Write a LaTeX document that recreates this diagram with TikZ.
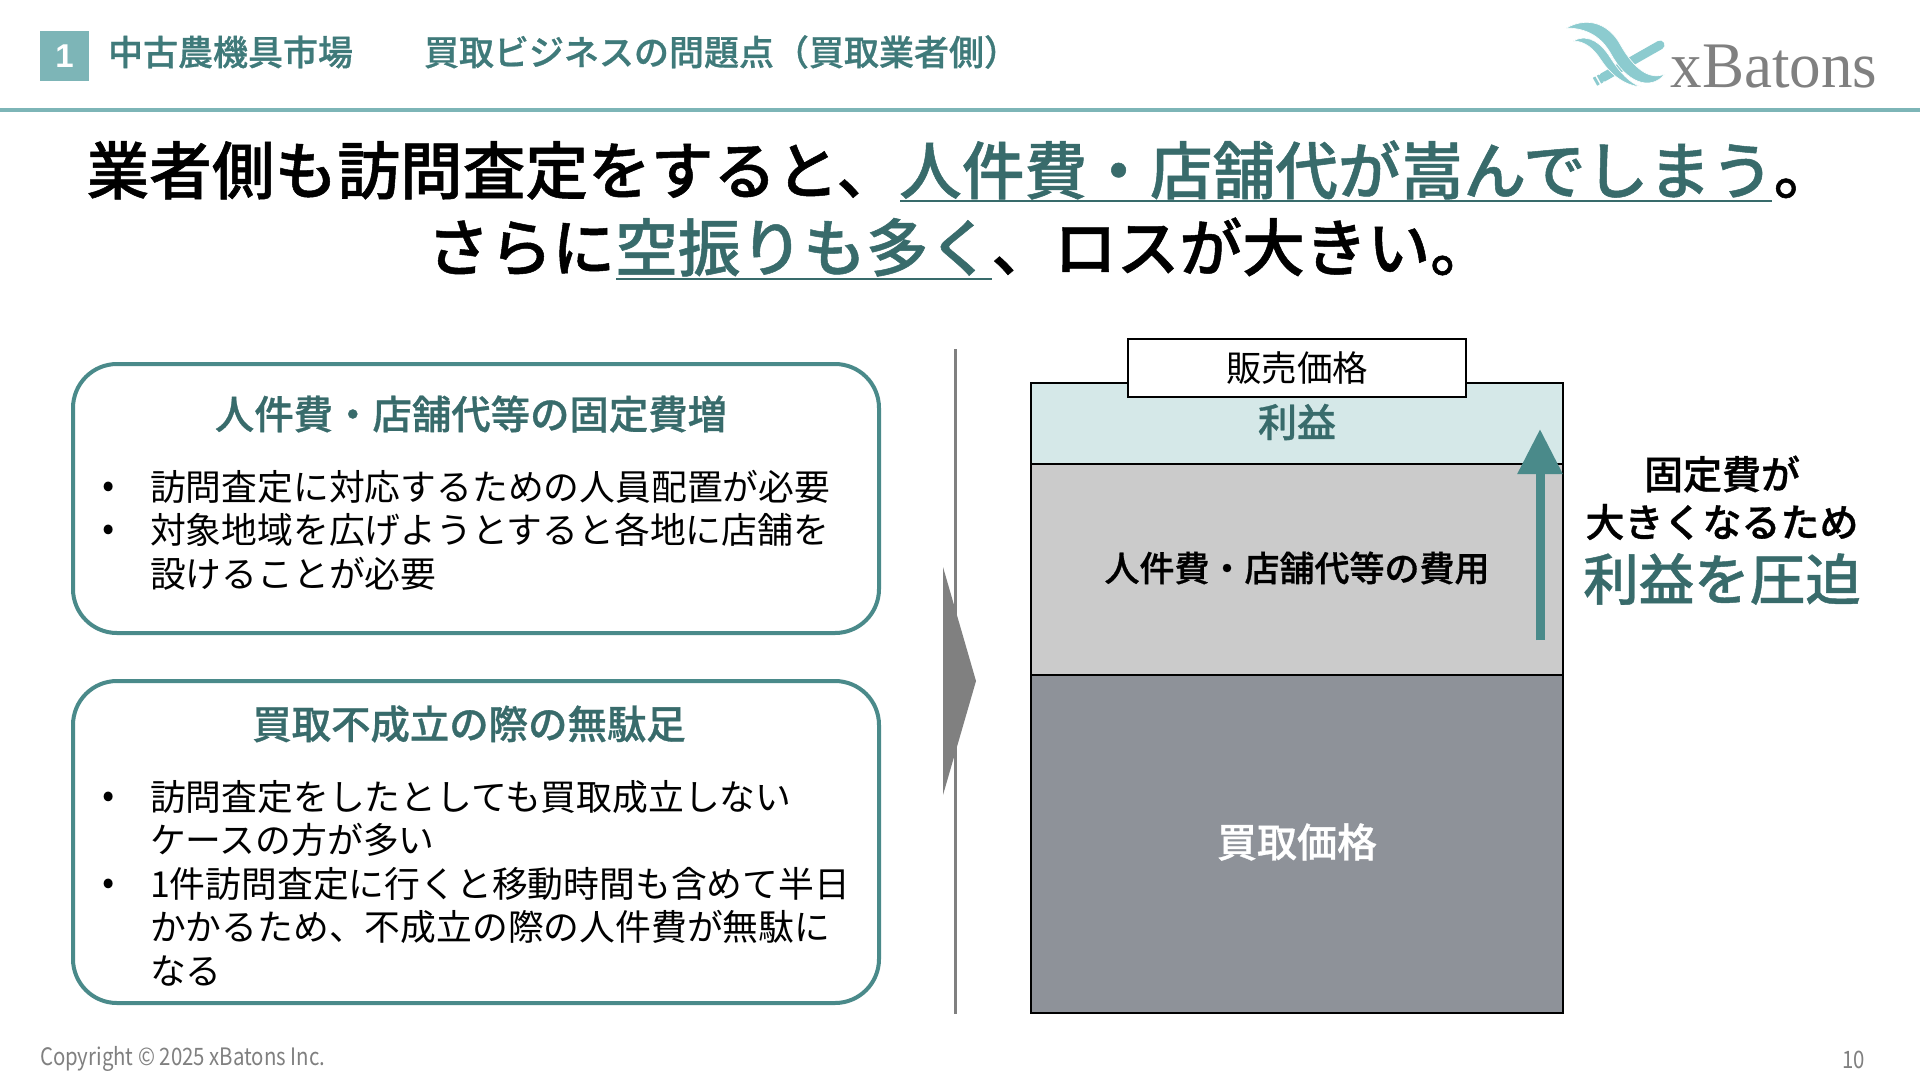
\documentclass[tikz,border=0pt]{standalone}
\usepackage{fontspec}
\setmainfont{Noto Sans CJK JP}[BoldFont={Noto Sans CJK JP Medium},BoldFeatures={FakeBold=0.8}]
\newfontfamily\latinfont{Liberation Sans}
\newfontfamily\logofont[FakeStretch=0.97]{Liberation Serif}
\newfontfamily\footfont[FakeStretch=0.85]{Noto Sans CJK JP}
\usetikzlibrary{arrows.meta}
\definecolor{tealdark}{HTML}{3F7A7A}
\definecolor{tealhead}{HTML}{386B6B}
\definecolor{tealline}{HTML}{4A8A8A}
\definecolor{teallight}{HTML}{7DB5B7}
\definecolor{logoteal}{HTML}{8CCBCF}
\definecolor{profitfill}{HTML}{D5E8E8}
\definecolor{costfill}{HTML}{CBCBCB}
\definecolor{buyfill}{HTML}{8E9299}
\newcommand{\fsz}[1]{\fontsize{#1}{#1}\selectfont}
\tikzset{
    txt/.style={inner sep=0pt,outer sep=0pt},
    headtxt/.style={txt,anchor=west,text=tealdark,font=\fsz{35}\bfseries},
    titletxt/.style={txt,font=\fsz{62.7}\bfseries},
    card/.style={draw=tealline,line width=4pt,rounded corners=44pt},
    cardhead/.style={txt,text=tealhead,font=\fsz{39.4}\bfseries},
    bodytxt/.style={txt,anchor=north west,align=left,font=\fontsize{35.8}{43.5}\selectfont},
    dot/.style={txt,font=\fsz{36}},
    layer/.style={draw=black,line width=2.4pt,minimum width=532pt,anchor=north west,inner sep=0pt,outer sep=0pt},
    sidetxt/.style={txt,font=\fsz{39}\bfseries},
    foot/.style={txt,text=black!50,font=\footfont\fsz{24}},
    ribbon/.style={fill=logoteal,draw=white,line width=.6pt},
    baton/.style={logoteal,line width=9pt}
}
\begin{document}
\begin{tikzpicture}[x=1pt,y=-1pt]
    \useasboundingbox[fill=white] (0,0) rectangle (1920,1080);
    % header
    \node[fill=teallight,minimum width=49pt,minimum height=50pt,inner sep=0pt,text=white,font=\latinfont\fsz{33}\bfseries] (num) at (64.5,56) {1};
    \node[headtxt] (market) at (108,52) {中古農機具市場};
    \node[headtxt] (topic) at (424,52) {買取ビジネスの問題点（買取業者側）};
    \draw[teallight,line width=3.5pt] (0,110) -- (1920,110);
    % logo
    \draw[baton] (1595,81.8) -- (1597.5,80.4);
    \draw[baton] (1599,79.6) -- (1601,78.5);
    \draw[baton,line cap=round] (1603,77.4) -- (1660,45);
    \filldraw[ribbon] (1566,28) .. controls (1590,15) and (1610,26) .. (1620,44) .. controls (1630,62) and (1646,82) .. (1665,74) .. controls (1650,92) and (1626,82) .. (1611,54) .. controls (1602,38) and (1588,28) .. (1566,28) -- cycle;
    \filldraw[ribbon] (1573,41) .. controls (1590,32) and (1603,46) .. (1610,57) .. controls (1620,73) and (1630,83) .. (1641,87) .. controls (1622,85) and (1609,72) .. (1601,60) .. controls (1594,49) and (1585,41) .. (1573,41) -- cycle;
    \node[txt,text=black!50,font=\logofont\fsz{65}] (brand) at (1774,67) {xBatons};
    % title
    \node[titletxt] (title1) at (961.5,170) {業者側も訪問査定をすると、\textcolor{tealhead}{人件費・店舗代が嵩んでしまう}。};
    \node[titletxt] (title2) at (960,247) {さらに\textcolor{tealhead}{空振りも多く}、ロスが大きい。};
    \draw[tealhead,line width=2.5pt] (900,201) -- (1772,201);
    \draw[tealhead,line width=2.5pt] (616,279) -- (992,279);
    % left cards
    \draw[card] (73,364) rectangle (879,633);
    \node[cardhead] (head1) at (471,414) {人件費・店舗代等の固定費増};
    \node[dot] (dot1) at (109,490) {•};
    \node[dot] (dot2) at (109,533) {•};
    \node[bodytxt] (body1) at (150,470) {訪問査定に対応するための人員配置が必要\\対象地域を広げようとすると各地に店舗を\\設けることが必要};
    \draw[card] (73,681) rectangle (879,1003);
    \node[cardhead] (head2) at (469,724) {買取不成立の際の無駄足};
    \node[dot] (dot3) at (109,800) {•};
    \node[dot] (dot4) at (109,887) {•};
    \node[bodytxt] (body2) at (150,780) {訪問査定をしたとしても買取成立しない\\ケースの方が多い\\1件訪問査定に行くと移動時間も含めて半日\\かかるため、不成立の際の人件費が無駄に\\なる};
    % divider and chevron
    \draw[black!50,line width=3pt] (955,349) -- (955,1014);
    \fill[black!50] (943,567) -- (976,681) -- (943,795) -- cycle;
    % price stack
    \node[layer,fill=profitfill,minimum height=81pt] (profit) at (1031,383) {};
    \node[layer,fill=costfill,minimum height=211pt] (cost) at (1031,464) {};
    \node[layer,fill=buyfill,minimum height=338pt] (buy) at (1031,675) {};
    \node[draw=black,line width=1.8pt,fill=white,minimum width=338pt,minimum height=58pt,inner sep=0pt,font=\fsz{35.5}] (price) at (1297,367.6) {販売価格};
    \node[txt,text=tealhead,font=\fsz{39}\bfseries] (profitlab) at (1297,422) {利益};
    \node[txt,font=\fsz{35}\bfseries] (costlab) at (1297,568) {人件費・店舗代等の費用};
    \node[txt,text=white,font=\fsz{40}\bfseries] (buylab) at (1297,842) {買取価格};
    % squeeze arrow
    \coordinate (arrowfrom) at (1540,640);
    \coordinate (arrowto) at (1540,429);
    \draw[tealline,line width=9pt,-{Triangle[length=45pt,width=43pt]}] (arrowfrom) -- (arrowto);
    \node[sidetxt] (side1) at (1722,474) {固定費が};
    \node[sidetxt] (side2) at (1722,522) {大きくなるため};
    \node[txt,text=tealhead,font=\fsz{55.5}\bfseries] (side3) at (1722,579) {利益を圧迫};
    % footer
    \node[foot,anchor=west] (copy) at (40,1059) {Copyright © 2025 xBatons Inc.};
    \node[foot,anchor=east] (page) at (1865,1060) {10};
\end{tikzpicture}
\end{document}
